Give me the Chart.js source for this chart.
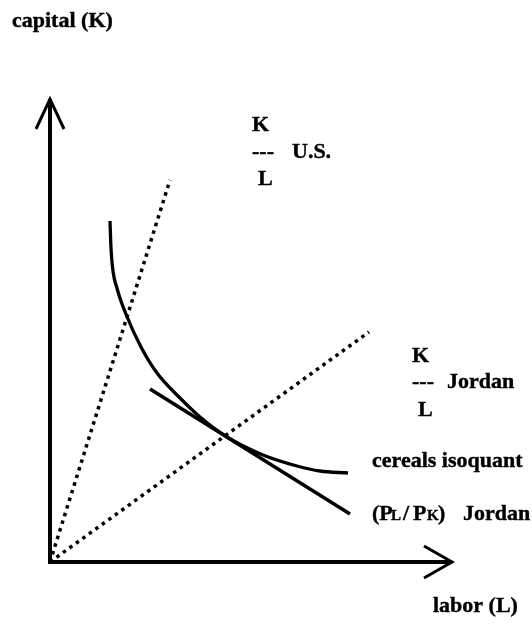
<!DOCTYPE html>
<html>
<head>
<meta charset="utf-8">
<script src="https://cdn.jsdelivr.net/npm/chart.js@4.4.1/dist/chart.umd.min.js"></script>
<style>
  html, body { margin: 0; padding: 0; background: #fff; }
  #wrap { width: 532px; height: 626px; position: relative; }
</style>
</head>
<body>
<div id="wrap"><canvas id="chart"></canvas></div>
<script>
// labor (L) on x, capital (K) on y, schematic units
const isoquant = [
  [6.0, 34.1], [6.08, 31.8], [6.25, 29.5], [6.75, 27.2], [7.55, 24.9],
  [9.1, 21.5], [10.7, 18.9], [13.0, 16.4], [15.0, 14.5], [17.7, 12.5],
  [21.3, 10.7], [24.7, 9.6], [27.0, 9.1], [29.8, 8.9]
];
const rayUS = [[0, 0], [12.0, 38.2]];
const rayJordan = [[0, 0], [31.9, 23.0]];
const priceJordan = [[10.0, 17.3], [30.0, 4.8]];
const axisK = [[0, -0.2], [0, 46.3]];
const axisL = [[-0.2, 0], [40.2, 0]];
const arrowK = [[-1.4, 43.3], [0, 46.3], [1.4, 43.3]];
const arrowL = [[37.4, 1.6], [40.2, 0], [37.4, -1.6]];

const pts = (arr) => arr.map(([x, y]) => ({ x, y }));

const line = (data, width, extra) => Object.assign({
  data: pts(data),
  showLine: true,
  borderColor: "#000",
  borderWidth: width,
  pointRadius: 0,
  fill: false,
  borderCapStyle: "butt",
  borderJoinStyle: "miter",
}, extra || {});

// text labels drawn on top of the chart
const labelsPlugin = {
  id: "labelsPlugin",
  afterDraw: (chart) => {
    const ctx = chart.ctx;
    const big = 'bold 22px "Liberation Serif"';
    const small = 'bold 15px "Liberation Serif"';
    ctx.save();
    ctx.fillStyle = "#000";
    ctx.strokeStyle = "#000";
    ctx.lineWidth = 0.4;
    ctx.textBaseline = "alphabetic";
    ctx.textAlign = "left";
    const t = (s, x, y, f) => {
      ctx.font = f || big;
      ctx.fillText(s, x, y);
      ctx.strokeText(s, x, y);
    };

    t("capital (K)", 12, 27);

    t("K", 252, 131);
    t("---", 252, 158);
    t("U.S.", 292, 158);
    t("L", 258, 185);

    t("K", 412, 362);
    t("---", 412, 388);
    t("Jordan", 447, 388);
    t("L", 418, 416);

    t("cereals isoquant", 372, 467);

    t("(P", 372, 520);
    t("L", 391, 520, small);
    t("/", 403, 520);
    t("P", 413, 520);
    t("K", 427, 520, small);
    t(")", 438, 520);
    t("Jordan", 463, 520);

    t("labor (L)", 433, 612);
    ctx.restore();
  },
};

new Chart(document.getElementById("chart").getContext("2d"), {
  type: "scatter",
  data: {
    datasets: [
      line(axisK, 4),
      line(axisL, 4),
      line(arrowK, 3),
      line(arrowL, 3),
      line(rayUS, 3.5, { borderDash: [3.5, 4.5] }),
      line(rayJordan, 3.5, { borderDash: [3.5, 4.5] }),
      line(priceJordan, 3.5),
      line(isoquant, 3.3, { cubicInterpolationMode: "monotone" }),
    ],
  },
  options: {
    responsive: true,
    maintainAspectRatio: false,
    animation: false,
    layout: { padding: 0 },
    plugins: {
      legend: { display: false },
      tooltip: { enabled: false },
      title: { display: false },
    },
    scales: {
      x: { type: "linear", display: false, min: -5.0, max: 48.2 },
      y: { type: "linear", display: false, min: -6.4, max: 56.2 },
    },
  },
  plugins: [labelsPlugin],
});
</script>
</body>
</html>
